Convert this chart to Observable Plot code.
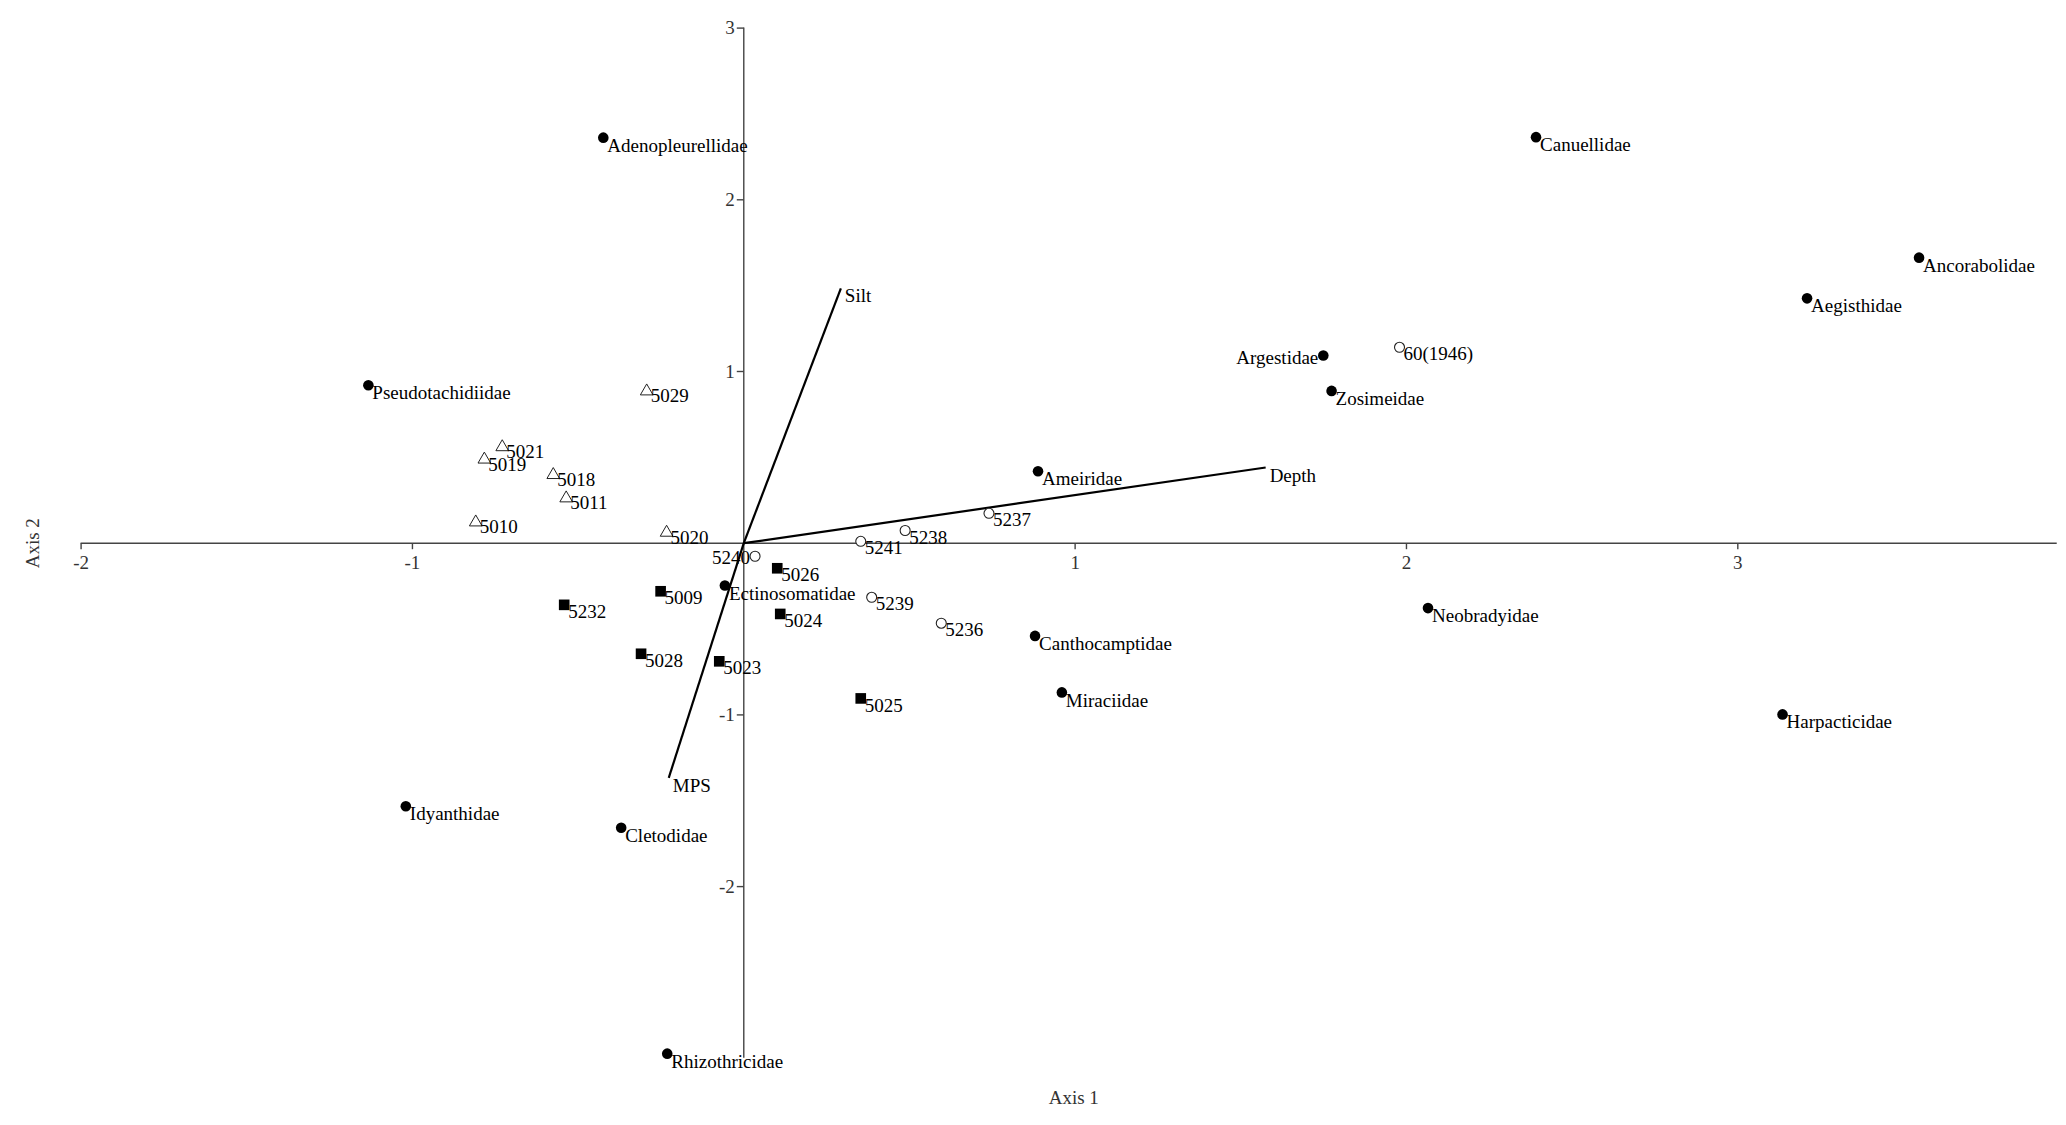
<!DOCTYPE html>
<html>
<head>
<meta charset="utf-8">
<script src="https://cdn.jsdelivr.net/npm/d3@7"></script>
<script src="https://cdn.jsdelivr.net/npm/@observablehq/plot@0.6"></script>
<style>
  html, body { margin: 0; padding: 0; background: #fff; }
  #chart svg { display: block; }
</style>
</head>
<body>
<div id="chart"></div>
<script>
// ---- Data ----
// Families (filled circles)
const familyNames = ["Adenopleurellidae","Pseudotachidiidae","Canuellidae","Ancorabolidae","Aegisthidae","Argestidae","Zosimeidae","Ameiridae","Ectinosomatidae","Canthocamptidae","Miraciidae","Neobradyidae","Harpacticidae","Idyanthidae","Cletodidae","Rhizothricidae"];
const familyX = [-0.424, -1.133, 2.391, 3.547, 3.209, 1.749, 1.774, 0.888, -0.057, 0.879, 0.960, 2.065, 3.135, -1.020, -0.370, -0.231];
const familyY = [2.362, 0.920, 2.365, 1.663, 1.426, 1.093, 0.887, 0.419, -0.246, -0.540, -0.869, -0.378, -0.997, -1.532, -1.657, -2.973];

// Stations, group A (open triangles)
const triNames = ["5029","5021","5019","5018","5011","5010","5020"];
const triX = [-0.293, -0.729, -0.783, -0.575, -0.536, -0.809, -0.233];
const triY = [0.885, 0.560, 0.488, 0.398, 0.262, 0.122, 0.062];

// Stations, group B (filled squares)
const sqNames = ["5026","5009","5232","5024","5028","5023","5025"];
const sqX = [0.101, -0.251, -0.542, 0.110, -0.310, -0.074, 0.353];
const sqY = [-0.146, -0.280, -0.359, -0.412, -0.644, -0.688, -0.904];

// Stations, group C (open circles)
const ocNames = ["5240","5241","5238","5237","5239","5236","60(1946)"];
const ocX = [0.034, 0.353, 0.487, 0.740, 0.386, 0.596, 1.979];
const ocY = [-0.076, 0.011, 0.074, 0.174, -0.315, -0.466, 1.141];

// Labels drawn to the left of their symbol
const leftLabels = ["Argestidae", "5240"];

// Environmental vectors
const vecNames = ["Silt", "Depth", "MPS"];
const vecX = [0.293, 1.575, -0.2265];
const vecY = [1.484, 0.441, -1.367];

// Axes
const xTicks = [-2, -1, 1, 2, 3];
const yTicks = [-2, -1, 1, 2, 3];
const xDomain = [-2, 3.992];
const yDomain = [-3, 3];
const xAxisEnd = 3.964;
const xTitle = "Axis 1";
const yTitle = "Axis 2";

// ---- Build tables ----
const zipPts = (names, xs, ys) => names.map((n, i) => ({label: n, x: xs[i], y: ys[i], left: leftLabels.includes(n)}));
const families = zipPts(familyNames, familyX, familyY);
const tris = zipPts(triNames, triX, triY);
const squares = zipPts(sqNames, sqX, sqY);
const opens = zipPts(ocNames, ocX, ocY);
const vectors = vecNames.map((n, i) => ({label: n, x: vecX[i], y: vecY[i]}));

const FONT = "Liberation Serif, Times New Roman, serif";
const FS = 19;
const AX = "#444";

const tickDown = {draw(ctx) { ctx.moveTo(0, 0); ctx.lineTo(0, 6); }};
const tickLeft = {draw(ctx) { ctx.moveTo(0, 0); ctx.lineTo(-7, 0); }};

const labelMark = (data, dy) => [
  Plot.text(data.filter(d => !d.left), {x: "x", y: "y", text: "label", textAnchor: "start", dx: 4, dy, fontFamily: FONT, fontSize: FS, fill: "#000"}),
  Plot.text(data.filter(d => d.left), {x: "x", y: "y", text: "label", textAnchor: "end", dx: -5, dy: 2, fontFamily: FONT, fontSize: FS, fill: "#000"})
];

const chart = Plot.plot({
  width: 2066,
  height: 1125,
  marginLeft: 80.6,
  marginRight: 0,
  marginTop: 27.6,
  marginBottom: 67.2,
  style: {background: "#fff", fontFamily: FONT},
  x: {domain: xDomain, axis: null},
  y: {domain: yDomain, axis: null},
  marks: [
    // axes through origin
    Plot.ruleY([0], {x1: xDomain[0], x2: xAxisEnd, stroke: AX, strokeWidth: 1.4}),
    Plot.ruleX([0], {y1: yDomain[0], y2: yDomain[1], stroke: AX, strokeWidth: 1.4}),
    Plot.dot(xTicks, {x: d => d, y: 0, symbol: tickDown, fill: "none", stroke: AX, strokeWidth: 1.4}),
    Plot.dot(yTicks, {x: 0, y: d => d, symbol: tickLeft, fill: "none", stroke: AX, strokeWidth: 1.4}),
    Plot.text(xTicks, {x: d => d, y: 0, text: d => String(d), dy: 20, fontFamily: FONT, fontSize: FS, fill: "#333"}),
    Plot.text(yTicks, {x: 0, y: d => d, text: d => String(d), dx: -9, textAnchor: "end", fontFamily: FONT, fontSize: FS, fill: "#333"}),
    Plot.text([xTitle], {frameAnchor: "bottom", text: d => d, dy: 40, textAnchor: "middle", lineAnchor: "middle", fontFamily: FONT, fontSize: FS, fill: "#333"}),
    Plot.text([yTitle], {frameAnchor: "left", text: d => d, dx: -48, rotate: -90, textAnchor: "middle", lineAnchor: "middle", fontFamily: FONT, fontSize: FS, fill: "#333"}),
    // environmental vectors
    Plot.link(vectors, {x1: 0, y1: 0, x2: "x", y2: "y", stroke: "#000", strokeWidth: 2.2}),
    Plot.text(vectors, {x: "x", y: "y", text: "label", textAnchor: "start", dx: 4, dy: 8, fontFamily: FONT, fontSize: FS, fill: "#000"}),
    // points
    Plot.dot(tris, {x: "x", y: "y", symbol: "triangle", r: 4.7, fill: "#fff", stroke: "#222", strokeWidth: 1}),
    Plot.dot(squares, {x: "x", y: "y", symbol: "square", r: 6, fill: "#000", stroke: "none"}),
    Plot.dot(opens, {x: "x", y: "y", r: 5, fill: "#fff", stroke: "#222", strokeWidth: 1.1}),
    Plot.dot(families, {x: "x", y: "y", r: 5.3, fill: "#000", stroke: "none"}),
    // labels
    ...labelMark(families, 8),
    ...labelMark(tris, 5),
    ...labelMark(squares, 7),
    ...labelMark(opens, 7)
  ]
});

document.getElementById("chart").appendChild(chart);
</script>
</body>
</html>
